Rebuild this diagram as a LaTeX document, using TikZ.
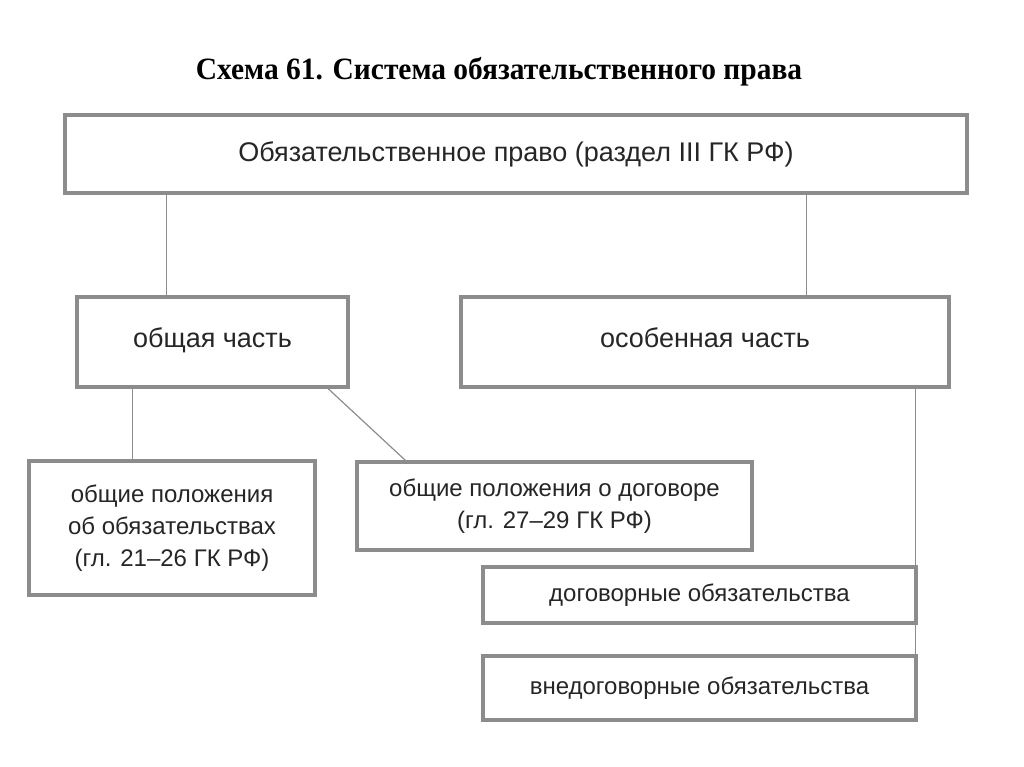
\documentclass[tikz,border=0pt]{standalone}
\usepackage{fontspec}
\setmainfont{Liberation Sans}
\newfontfamily\titlefont{Liberation Serif}
\begin{document}
\begin{tikzpicture}[x=1pt,y=-1pt,
  bx/.style={draw=black!45,line width=3.5pt,fill=white,inner sep=0pt,font=\fontsize{27}{34}\selectfont,text=black!85,align=center},
  ln/.style={draw=black!45,line width=1.2pt}]
\useasboundingbox (0,0) rectangle (1024,767);
\node[font=\titlefont\bfseries\fontsize{31}{34}\selectfont,xscale=0.95] (t) at (499,72) {Схема 61. Система обязательственного права};
\node[bx,minimum width=902,minimum height=78] (top) at (516,154) {Обязательственное право (раздел III ГК РФ)};
\node[bx,minimum width=271,minimum height=90] (gen) at (212.5,342) {\raisebox{8pt}{общая часть}};
\node[bx,minimum width=488,minimum height=90] (spec) at (705,342) {\raisebox{8pt}{особенная часть}};
\node[bx,minimum width=286,minimum height=134,font=\fontsize{24}{32}\selectfont] (g1) at (172,528) {общие положения\\об обязательствах\\(гл. 21–26 ГК РФ)};
\node[bx,minimum width=395,minimum height=88,font=\fontsize{24}{32}\selectfont] (g2) at (554.5,506) {общие положения о договоре\\(гл. 27–29 ГК РФ)};
\node[bx,minimum width=433,minimum height=56,font=\fontsize{24}{32}\selectfont] (s1) at (699.5,595) {договорные обязательства};
\node[bx,minimum width=433,minimum height=64,font=\fontsize{24}{32}\selectfont] (s2) at (699.5,688) {внедоговорные обязательства};
\draw[ln] (top.south -| gen.north west) ++(91,0) coordinate (a1) -- (a1 |- gen.north);
\draw[ln] (top.south -| spec.north west) ++(347,0) coordinate (a2) -- (a2 |- spec.north);
\draw[ln] (gen.south west) ++(57,0) coordinate (a3) -- (a3 |- g1.north);
\draw[ln] (gen.south west) ++(253,0) coordinate (a4) -- ([xshift=50]g2.north west);
\draw[ln] (spec.south east) ++(-35,0) coordinate (a5) -- (a5 |- s2.north);
\end{tikzpicture}
\end{document}
